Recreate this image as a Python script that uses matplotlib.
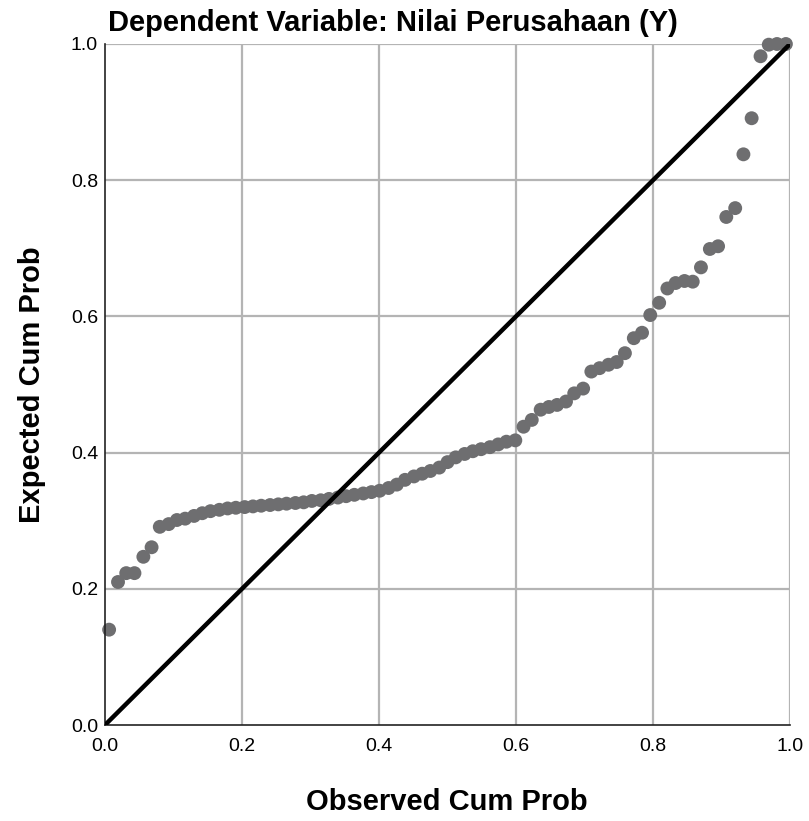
import matplotlib.pyplot as plt

# observed cumulative probability (x) and expected cumulative probability (y)
observed = [0.006, 0.019, 0.031, 0.043, 0.056, 0.068, 0.080, 0.093, 0.105, 0.117,
            0.130, 0.142, 0.154, 0.167, 0.179, 0.191, 0.204, 0.216, 0.228, 0.241,
            0.253, 0.265, 0.278, 0.290, 0.302, 0.315, 0.327, 0.340, 0.352, 0.364,
            0.377, 0.389, 0.401, 0.414, 0.426, 0.438, 0.451, 0.463, 0.475, 0.488,
            0.500, 0.512, 0.525, 0.537, 0.549, 0.562, 0.574, 0.586, 0.599, 0.611,
            0.623, 0.636, 0.648, 0.660, 0.673, 0.685, 0.698, 0.710, 0.722, 0.735,
            0.747, 0.759, 0.772, 0.784, 0.796, 0.809, 0.821, 0.833, 0.846, 0.858,
            0.870, 0.883, 0.895, 0.907, 0.920, 0.932, 0.944, 0.957, 0.969, 0.981,
            0.994]
expected = [0.140, 0.210, 0.223, 0.223, 0.247, 0.261, 0.291, 0.295, 0.301, 0.303,
            0.307, 0.311, 0.314, 0.316, 0.318, 0.319, 0.320, 0.321, 0.322, 0.323,
            0.324, 0.325, 0.326, 0.327, 0.329, 0.330, 0.332, 0.334, 0.336, 0.338,
            0.340, 0.342, 0.344, 0.348, 0.353, 0.360, 0.365, 0.369, 0.373, 0.378,
            0.386, 0.393, 0.398, 0.402, 0.405, 0.408, 0.412, 0.416, 0.418, 0.438,
            0.448, 0.463, 0.467, 0.470, 0.475, 0.487, 0.494, 0.519, 0.524, 0.529,
            0.533, 0.546, 0.568, 0.576, 0.602, 0.620, 0.641, 0.649, 0.652, 0.651,
            0.672, 0.699, 0.703, 0.746, 0.759, 0.838, 0.891, 0.982, 0.999, 1.000,
            1.000]

ticks = [0.0, 0.2, 0.4, 0.6, 0.8, 1.0]
tick_labels = ["0.0", "0.2", "0.4", "0.6", "0.8", "1.0"]

plt.rcParams['font.family'] = ['Liberation Sans', 'DejaVu Sans']

fig = plt.figure(figsize=(8.09, 8.21), dpi=100)
ax = fig.add_axes([105 / 809, 96 / 821, 685 / 809, 681 / 821])

ax.set_xlim(0, 1)
ax.set_ylim(0, 1)

# grid and frame
grid_col = '#b4b4b4'
for t in ticks[1:]:
    ax.axvline(t, color=grid_col, lw=1.6, zorder=1)
    ax.axhline(t, color=grid_col, lw=1.6, zorder=1)
for side in ['top', 'right']:
    ax.spines[side].set_visible(False)
for side in ['left', 'bottom']:
    ax.spines[side].set_color('#222222')
    ax.spines[side].set_linewidth(1.2)

ax.scatter(observed, expected, s=100, color='#6e6e70', edgecolors='none',
           zorder=2, clip_on=False)
ax.plot([0, 1], [0, 1], color='black', lw=3.2, zorder=3,
        solid_capstyle='butt')

ax.set_xticks(ticks)
ax.set_yticks(ticks)
ax.set_xticklabels(tick_labels, fontsize=14)
ax.set_yticklabels(tick_labels, fontsize=14)
ax.tick_params(axis='x', length=0, pad=9)
ax.tick_params(axis='y', length=0, pad=5)

ax.set_xlabel("Observed Cum Prob", fontsize=21, fontweight='bold', va='center')
ax.set_ylabel("Expected Cum Prob", fontsize=21, fontweight='bold', va='center')
ax.xaxis.set_label_coords(447 / 685 - 105 / 685, -(802 - 725) / 681)
ax.yaxis.set_label_coords(-(105 - 32) / 685, 0.5)

fig.text(393 / 809, 1 - 23 / 821, "Dependent Variable: Nilai Perusahaan (Y)",
         ha='center', va='center', fontsize=21, fontweight='bold')

plt.savefig("out.png", dpi=100)
